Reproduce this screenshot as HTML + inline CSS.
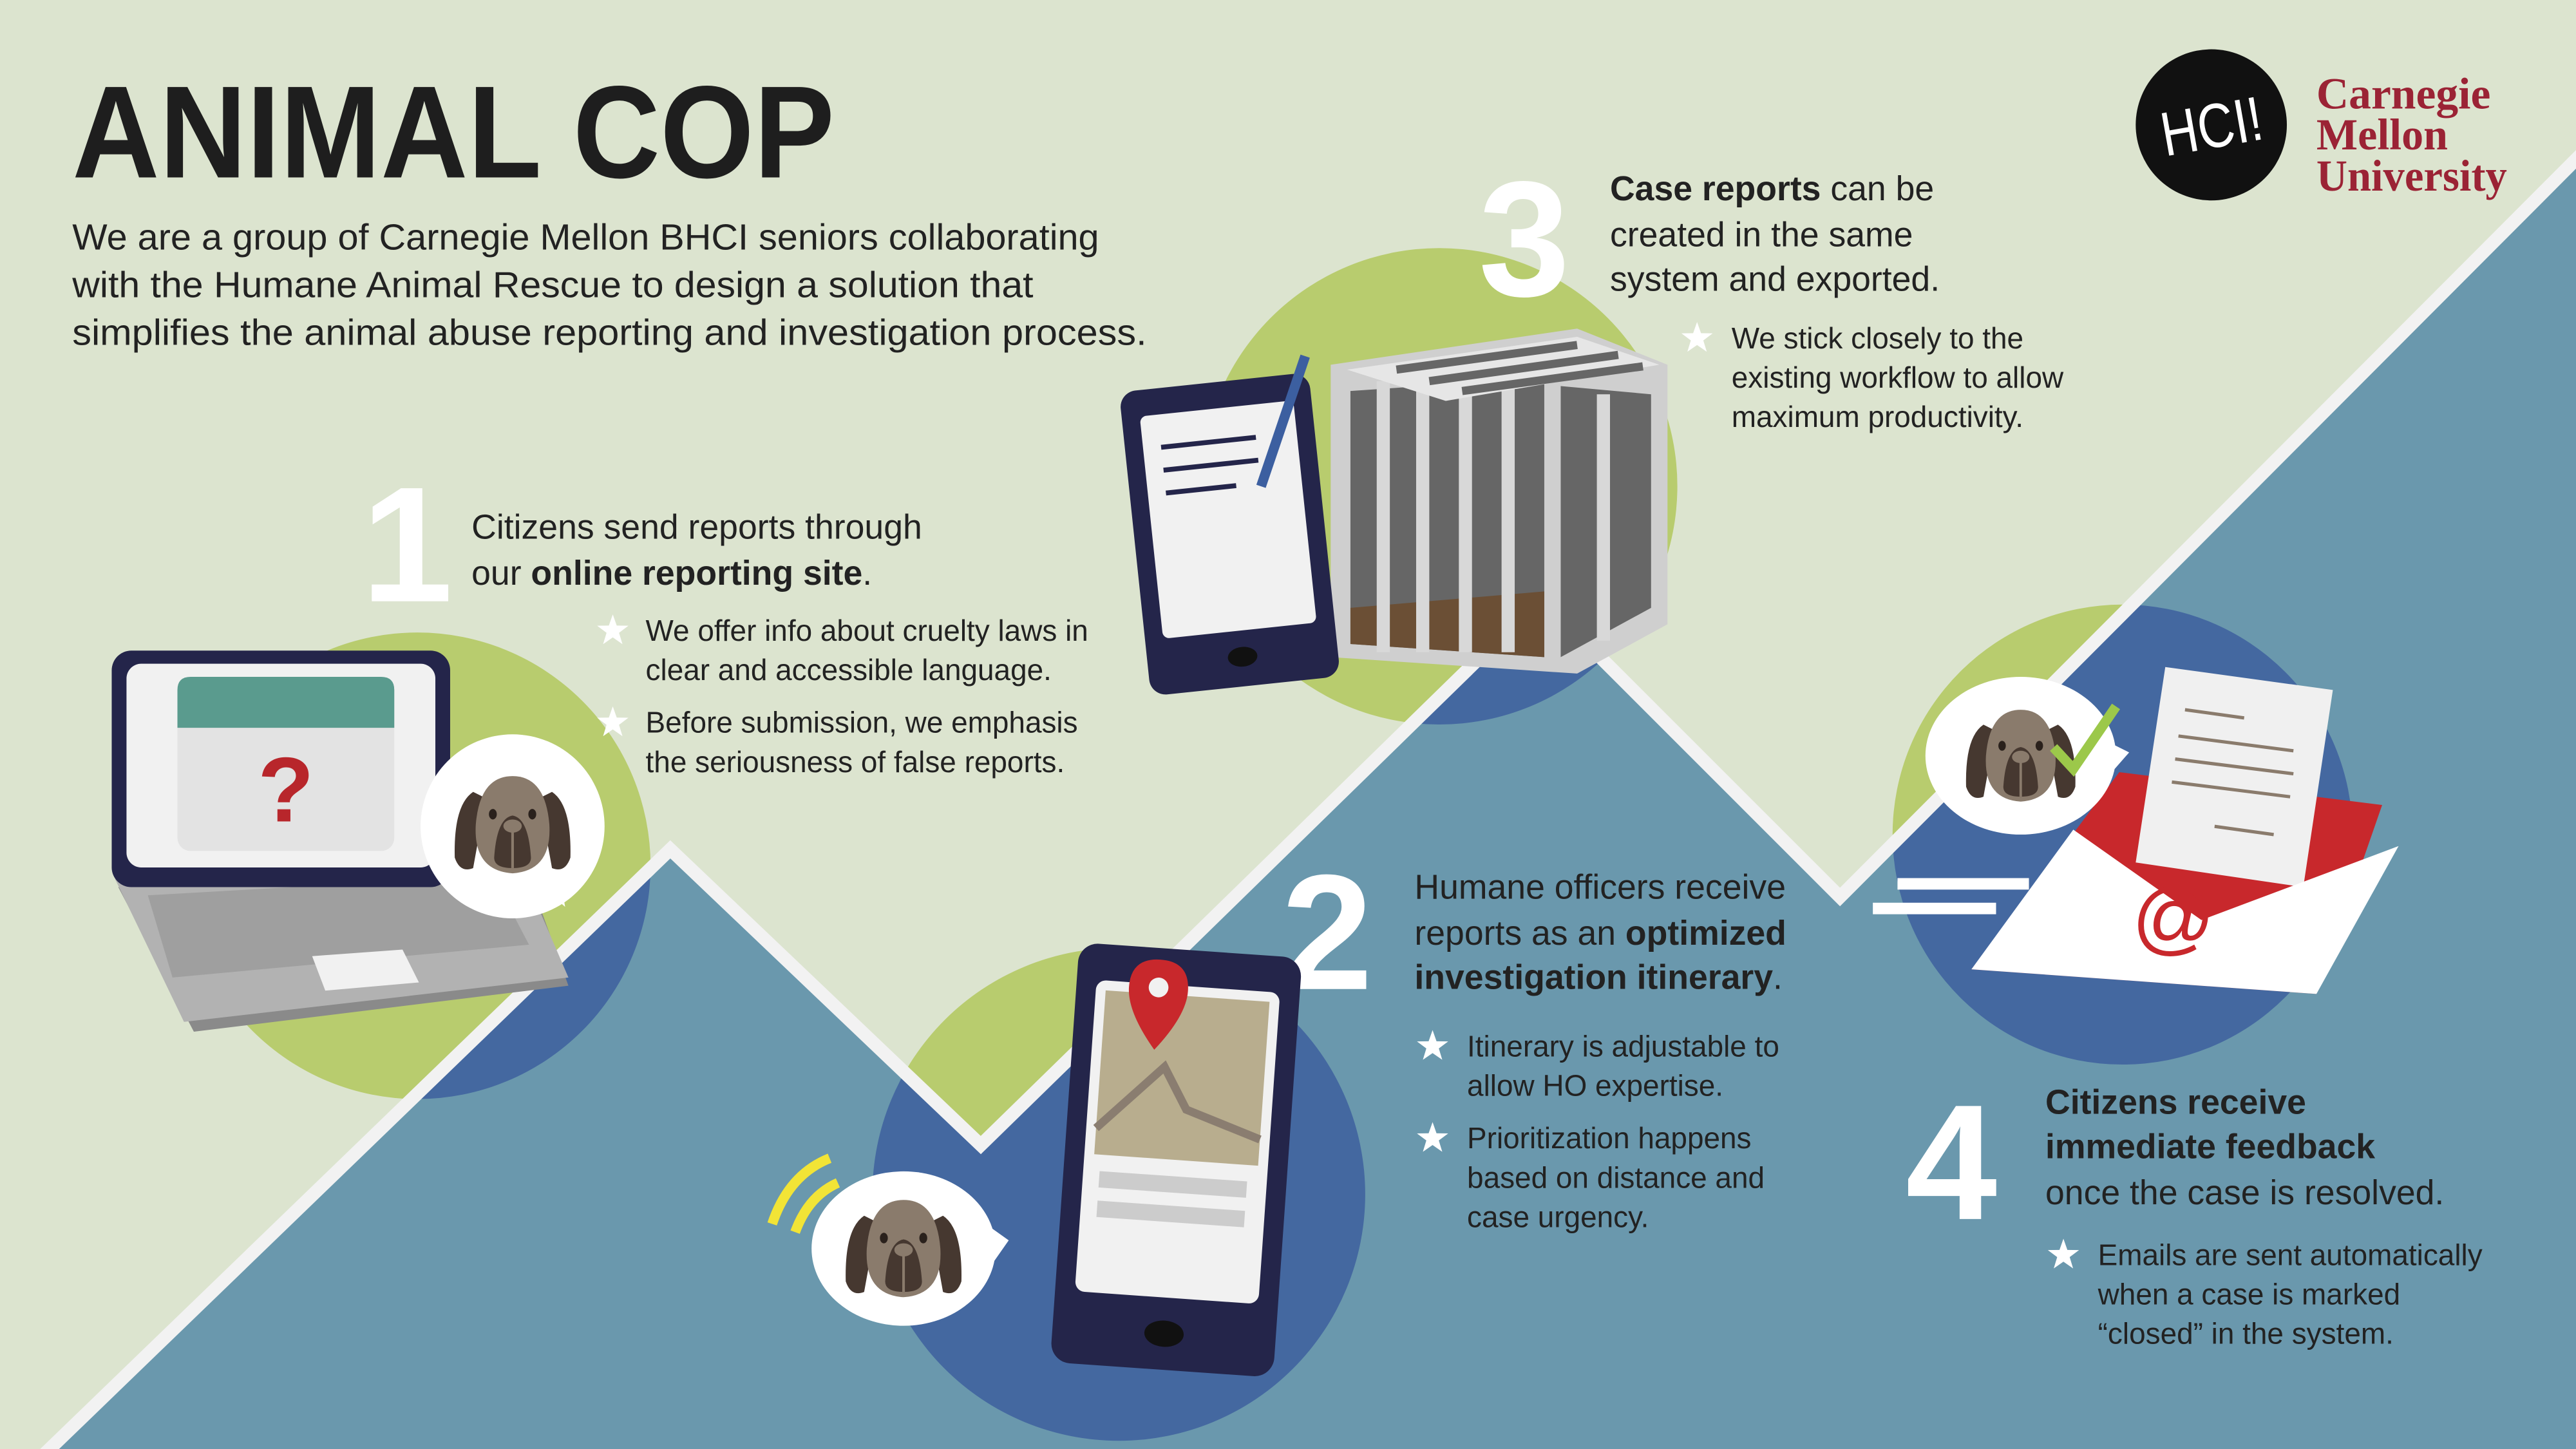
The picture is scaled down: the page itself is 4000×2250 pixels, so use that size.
<!DOCTYPE html>
<html><head><meta charset="utf-8">
<style>
html,body{margin:0;padding:0;background:#dce4cf;}
svg{display:block;}
text{font-family:"Liberation Sans","DejaVu Sans",sans-serif;}
</style></head>
<body>
<svg width="4000" height="2250" viewBox="0 0 1568 882" xmlns="http://www.w3.org/2000/svg">
<defs>
<clipPath id="below"><polygon points="30,882 408,517 597,697 938,364 1120,546 1568,97 1568,882"/></clipPath>
<symbol id="dog" viewBox="0 0 100 90">
<path d="M20,20 Q5,30 6,70 Q10,82 20,78 Q25,50 30,25 Z" fill="#463830"/>
<path d="M80,20 Q95,30 94,70 Q90,82 80,78 Q75,50 70,25 Z" fill="#463830"/>
<path d="M50,8 Q25,8 22,45 Q20,80 50,82 Q80,80 78,45 Q75,8 50,8 Z" fill="#8a7b6c"/>
<path d="M50,38 Q38,40 36,70 Q36,78 50,78 Q64,78 64,70 Q62,40 50,38 Z" fill="#463830"/>
<ellipse cx="50" cy="46" rx="7" ry="5" fill="#8a7b6c"/>
<rect x="49" y="48" width="2" height="30" fill="#8a7b6c"/>
<ellipse cx="35" cy="37" rx="3" ry="4" fill="#2a211c"/><ellipse cx="65" cy="37" rx="3" ry="4" fill="#2a211c"/>
</symbol>
<symbol id="star" viewBox="-10 -10 20 20"><polygon points="0,-10 2.4,-3.2 9.5,-3.1 3.8,1.2 5.9,8.1 0,4 -5.9,8.1 -3.8,1.2 -9.5,-3.1 -2.4,-3.2" fill="#fff"/></symbol>
</defs>
<rect width="1568" height="882" fill="#dce4cf"/>

<circle cx="254" cy="527" r="142" fill="#b8cc6e"/>
<circle cx="681" cy="727" r="150" fill="#b8cc6e"/>
<circle cx="876" cy="296" r="145" fill="#b8cc6e"/>
<circle cx="1292" cy="508" r="140" fill="#b8cc6e"/>

<polygon points="30,882 408,517 597,697 938,364 1120,546 1568,97 1568,882" fill="#6a98ad"/>
<g clip-path="url(#below)">
<circle cx="254" cy="527" r="142" fill="#4468a0"/>
<circle cx="681" cy="727" r="150" fill="#4468a0"/>
<circle cx="876" cy="296" r="145" fill="#4468a0"/>
<circle cx="1292" cy="508" r="140" fill="#4468a0"/>
</g>
<polyline points="24,888 408,517 597,697 938,364 1120,546 1574,91" fill="none" stroke="#f2f2f2" stroke-width="8"/>

<text x="44" y="108" font-size="80" font-weight="bold" fill="#1e1e1e" textLength="464" lengthAdjust="spacingAndGlyphs">ANIMAL COP</text>
<g font-size="22" fill="#222">
<text x="44" y="152" textLength="625" lengthAdjust="spacingAndGlyphs">We are a group of Carnegie Mellon BHCI seniors collaborating</text>
<text x="44" y="181" textLength="585" lengthAdjust="spacingAndGlyphs">with the Humane Animal Rescue to design a solution that</text>
<text x="44" y="210" textLength="654" lengthAdjust="spacingAndGlyphs">simplifies the animal abuse reporting  and investigation process.</text>
</g>

<circle cx="1346" cy="76" r="46" fill="#111"/>
<text x="1346" y="90" font-size="38" fill="#fff" text-anchor="middle" textLength="62" lengthAdjust="spacingAndGlyphs" transform="rotate(-10 1346 76)">HCI!</text>
<g font-weight="bold" font-size="27" fill="#9b2335">
<text x="1410" y="66" style="font-family:'Liberation Serif',serif" textLength="106" lengthAdjust="spacingAndGlyphs">Carnegie</text>
<text x="1410" y="91" style="font-family:'Liberation Serif',serif" textLength="80" lengthAdjust="spacingAndGlyphs">Mellon</text>
<text x="1410" y="116" style="font-family:'Liberation Serif',serif" textLength="116" lengthAdjust="spacingAndGlyphs">University</text>
</g>

<text x="220" y="366" font-size="100" font-weight="bold" fill="#fff">1</text>
<g font-size="21" fill="#222">
<text x="287" y="328">Citizens send reports through</text>
<text x="287" y="356">our <tspan font-weight="bold">online reporting site</tspan>.</text>
</g>
<g font-size="18" fill="#222">
<use href="#star" x="363" y="374" width="20" height="20"/>
<text x="393" y="390">We offer info about cruelty laws in</text>
<text x="393" y="414">clear and accessible language.</text>
<use href="#star" x="363" y="430" width="20" height="20"/>
<text x="393" y="446">Before submission, we emphasis</text>
<text x="393" y="470">the seriousness of false reports.</text>
</g>
<g>
<polygon points="72,540 320,528 346,600 118,628" fill="#8a8a8a"/>
<polygon points="70,535 315,523 346,595 112,622" fill="#b2b2b2"/>
<polygon points="90,545 300,533 322,575 105,595" fill="#9f9f9f"/>
<polygon points="190,582 245,578 255,598 198,603" fill="#f1f1f1"/>
<rect x="68" y="396" width="206" height="144" rx="12" fill="#24254a"/>
<rect x="77" y="404" width="188" height="124" rx="9" fill="#f1f1f1"/>
<rect x="108" y="412" width="132" height="106" rx="8" fill="#e3e3e3"/>
<path d="M108,443 V420 Q108,412 116,412 H232 Q240,412 240,420 V443 Z" fill="#5a9b8e"/>
<text x="174" y="500" font-size="56" font-weight="bold" fill="#b8262b" text-anchor="middle">?</text>
</g>
<g>
<circle cx="312" cy="503" r="56" fill="#fff"/><polygon points="330,540 344,552 340,530" fill="#fff"/>
<use href="#dog" x="272" y="466" width="80" height="72"/>
</g>

<text x="780" y="602" font-size="100" font-weight="bold" fill="#fff">2</text>
<g font-size="21" fill="#222">
<text x="861" y="547">Humane officers receive</text>
<text x="861" y="575">reports as an <tspan font-weight="bold">optimized</tspan></text>
<text x="861" y="602"><tspan font-weight="bold">investigation itinerary</tspan>.</text>
</g>
<g font-size="18" fill="#222">
<use href="#star" x="862" y="627" width="20" height="20"/>
<text x="893" y="643">Itinerary is adjustable to</text>
<text x="893" y="667">allow HO expertise.</text>
<use href="#star" x="862" y="683" width="20" height="20"/>
<text x="893" y="699">Prioritization happens</text>
<text x="893" y="723">based on distance and</text>
<text x="893" y="747">case urgency.</text>
</g>
<g transform="rotate(4 715 705)">
<rect x="648" y="578" width="136" height="256" rx="12" fill="#24254a"/>
<rect x="660" y="600" width="112" height="190" rx="6" fill="#f1f1f1"/>
<rect x="666" y="606" width="100" height="100" fill="#b8ad8e"/>
<path d="M666,690 L705,650 L720,675 L766,690" stroke="#8a7d70" stroke-width="5" fill="none"/>
<rect x="670" y="716" width="90" height="10" fill="#ccc"/><rect x="670" y="734" width="90" height="10" fill="#ccc"/>
<ellipse cx="716" cy="812" rx="12" ry="8" fill="#111"/>
<path d="M698,585 Q680,585 680,603 Q680,618 698,640 Q716,618 716,603 Q716,585 698,585 Z" fill="#c8282c"/>
<circle cx="698" cy="602" r="6" fill="#f1f1f1"/>
</g>
<g>
<ellipse cx="550" cy="760" rx="56" ry="47" fill="#fff"/><polygon points="600,745 614,755 600,775" fill="#fff"/>
<use href="#dog" x="510" y="724" width="80" height="72"/>
<path d="M470,745 Q480,715 505,705" stroke="#f2e436" stroke-width="6" fill="none"/>
<path d="M484,750 Q492,728 510,720" stroke="#f2e436" stroke-width="6" fill="none"/>
</g>

<text x="900" y="180" font-size="100" font-weight="bold" fill="#fff">3</text>
<g font-size="21" fill="#222">
<text x="980" y="122"><tspan font-weight="bold">Case reports</tspan> can be</text>
<text x="980" y="150">created in the same</text>
<text x="980" y="177">system and exported.</text>
</g>
<g font-size="18" fill="#222">
<use href="#star" x="1023" y="196" width="20" height="20"/>
<text x="1054" y="212">We stick closely to the</text>
<text x="1054" y="236">existing workflow to allow</text>
<text x="1054" y="260">maximum productivity.</text>
</g>
<g>
<polygon points="810,222 960,200 1015,222 1015,380 960,410 810,400" fill="#cfcfcf"/>
<polygon points="822,238 940,230 940,400 822,392" fill="#666"/>
<polygon points="822,370 940,360 940,400 822,392" fill="#6b4f35"/>
<polygon points="950,235 1005,240 1005,370 950,400" fill="#666"/>
<g fill="#d8d8d8"><rect x="838" y="232" width="8" height="165"/><rect x="862" y="232" width="8" height="165"/><rect x="888" y="232" width="8" height="165"/><rect x="914" y="232" width="8" height="165"/><rect x="972" y="240" width="8" height="150"/></g>
<polygon points="820,225 960,205 1010,222 880,244" fill="#e6e6e6"/>
<g stroke="#666" stroke-width="5"><line x1="850" y1="225" x2="960" y2="210"/><line x1="870" y1="232" x2="985" y2="216"/><line x1="890" y1="238" x2="1000" y2="223"/></g>
</g>
<g transform="rotate(-6 750 320)">
<rect x="690" y="232" width="116" height="186" rx="10" fill="#24254a"/>
<rect x="701" y="248" width="94" height="136" rx="4" fill="#f1f1f1"/>
<g stroke="#24254a" stroke-width="3"><line x1="712" y1="268" x2="770" y2="268"/><line x1="712" y1="282" x2="770" y2="282"/><line x1="712" y1="296" x2="755" y2="296"/></g>
<ellipse cx="748" cy="400" rx="9" ry="6" fill="#111"/>
<line x1="770" y1="298" x2="805" y2="222" stroke="#3c5fa0" stroke-width="6"/>
</g>

<text x="1160" y="742" font-size="100" font-weight="bold" fill="#fff">4</text>
<g font-size="21" fill="#222">
<text x="1245" y="678" font-weight="bold">Citizens receive</text>
<text x="1245" y="705" font-weight="bold">immediate feedback</text>
<text x="1245" y="733">once the case is resolved.</text>
</g>
<g font-size="18" fill="#222">
<use href="#star" x="1246" y="754" width="20" height="20"/>
<text x="1277" y="770">Emails are sent automatically</text>
<text x="1277" y="794">when a case is marked</text>
<text x="1277" y="818">“closed” in the system.</text>
</g>
<g>
<polygon points="1290,470 1450,490 1410,605 1200,590" fill="#c8282c"/>
<polygon points="1318,406 1420,420 1402,540 1300,525" fill="#f0f0f0"/>
<g stroke="#8a7b6c" stroke-width="2"><line x1="1330" y1="432" x2="1366" y2="437"/><line x1="1326" y1="448" x2="1396" y2="457"/><line x1="1324" y1="462" x2="1396" y2="471"/><line x1="1322" y1="476" x2="1394" y2="485"/><line x1="1348" y1="503" x2="1384" y2="508"/></g>
<polygon points="1262,505 1200,590 1410,605 1460,515 1340,560" fill="#fff"/>
<text x="1323" y="575" font-size="50" fill="#c8282c" text-anchor="middle">@</text>
<g stroke="#fff" stroke-width="7"><line x1="1155" y1="538" x2="1235" y2="538"/><line x1="1140" y1="553" x2="1215" y2="553"/></g>
</g>
<g>
<ellipse cx="1230" cy="460" rx="58" ry="48" fill="#fff"/><polygon points="1280,450 1296,458 1282,474" fill="#fff"/>
<use href="#dog" x="1192" y="426" width="76" height="68"/>
<path d="M1250,455 L1262,468 L1288,430" stroke="#9cc84a" stroke-width="6" fill="none"/>
</g>
</svg>
</body></html>
